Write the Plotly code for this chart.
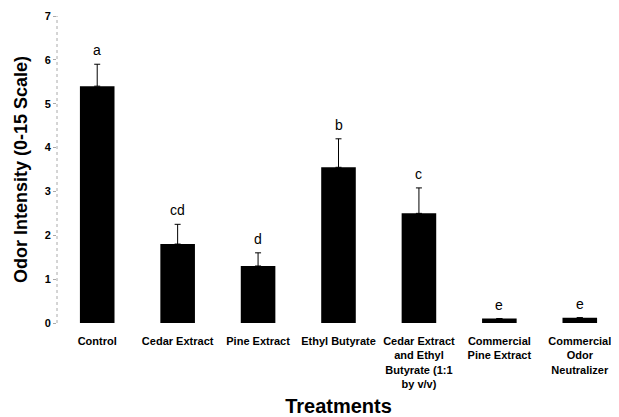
import plotly.graph_objects as go

categories = ["Control", "Cedar Extract", "Pine Extract", "Ethyl Butyrate",
              "Cedar Extract<br>and Ethyl<br>Butyrate (1:1<br>by v/v)",
              "Commercial<br>Pine Extract", "Commercial<br>Odor<br>Neutralizer"]
means = [5.4, 1.8, 1.3, 3.55, 2.5, 0.1, 0.12]
errors = [0.5, 0.45, 0.3, 0.65, 0.58, 0.0, 0.0]
letters = ["a", "cd", "d", "b", "c", "e", "e"]
y_ticks = [0, 1, 2, 3, 4, 5, 6, 7]

FONT = "Liberation Sans, Arial, sans-serif"

fig = go.Figure()
fig.add_trace(go.Bar(
    x=list(range(len(categories))), y=means,
    marker=dict(color="black", line=dict(width=0)),
    error_y=dict(type="data", array=errors, symmetric=False, arrayminus=[0]*len(errors),
                 color="black", thickness=1, width=3, visible=True),
    width=0.43,
))

for i, (m, e, l) in enumerate(zip(means, errors, letters)):
    fig.add_annotation(x=i, y=m + e, text=l, showarrow=False, yanchor="bottom",
                       yshift=4, font=dict(family=FONT, size=14, color="black"))

fig.add_shape(type="line", xref="paper", yref="paper", x0=0, x1=0, y0=0, y1=1,
              line=dict(color="#aaaaaa", width=1, dash="dot"))

fig.update_layout(
    width=612, height=409,
    margin=dict(l=49, r=0, t=8, b=94),
    paper_bgcolor="white", plot_bgcolor="white",
    showlegend=False,
    font=dict(family=FONT, color="black"),
    xaxis=dict(
        range=[-0.5, 6.5], automargin=False,
        tickmode="array", tickvals=list(range(len(categories))), ticktext=categories,
        tickfont=dict(family=FONT, size=11, color="black", weight="bold"),
        showline=False, showgrid=False, zeroline=False, ticks="",
        ticklabelstandoff=10,
        title=dict(text="<b>Treatments</b>", font=dict(family=FONT, size=20, color="black"),
                   standoff=12),
    ),
    yaxis=dict(
        range=[0, 7], automargin=False,
        tickmode="array", tickvals=y_ticks,
        tickfont=dict(family=FONT, size=11, color="black", weight="bold"),
        showline=False, showgrid=False, zeroline=False,
        ticks="outside", ticklen=3, tickcolor="#aaaaaa",
        title=dict(text="<b>Odor Intensity (0-15 Scale)</b>",
                   font=dict(family=FONT, size=18, color="black"), standoff=12),
    ),
)

fig.write_html("out.html")
